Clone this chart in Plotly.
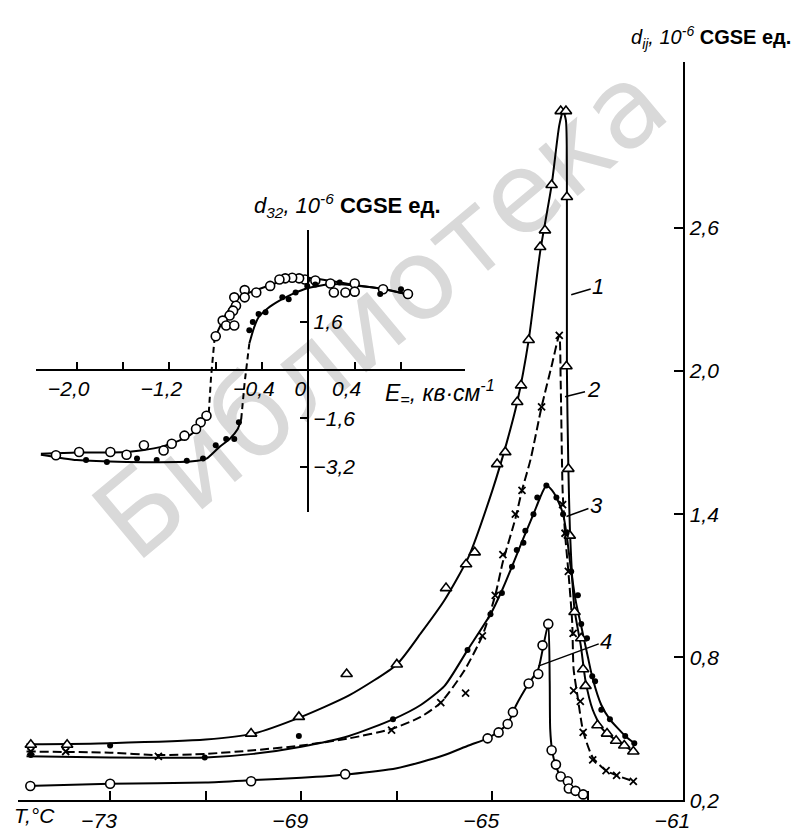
import plotly.graph_objects as go

# ---------------- main chart: T (°C) vs d_ij (10^-6 CGSE units) ----------------
# curve 1 (triangles, solid)
c1_line_T = [-74.75, -73.0, -71.0, -70.0, -69.0, -68.0, -67.0, -66.5, -66.0, -65.5, -65.0, -64.7,
             -64.48, -64.24, -64.0, -63.76, -63.6, -63.52, -63.46, -63.44, -63.44, -63.41, -63.37,
             -63.28, -63.15, -63.05, -62.9, -62.7, -62.4, -62.05]
c1_line_d = [0.435, 0.44, 0.455, 0.48, 0.55, 0.64, 0.77, 0.9, 1.04, 1.22, 1.5, 1.7,
             1.87, 2.13, 2.5, 2.78, 3.03, 3.09, 3.05, 2.7, 2.0, 1.6, 1.3,
             1.0, 0.85, 0.7, 0.58, 0.5, 0.45, 0.405]
c1_pts_T = [-74.66, -73.9, -70.05, -69.05, -68.05, -67.0, -65.97, -65.55, -65.37, -64.9, -64.73,
            -64.48, -64.4, -64.24, -64.0, -63.9, -63.76, -63.57, -63.46, -63.44, -63.45, -63.41,
            -63.38, -63.28, -63.14, -63.1, -63.05, -62.8, -62.6, -62.41, -62.24, -62.05]
c1_pts_d = [0.433, 0.433, 0.48, 0.55, 0.73, 0.77, 1.09, 1.19, 1.24, 1.61, 1.66,
            1.87, 1.94, 2.13, 2.52, 2.59, 2.78, 3.09, 3.09, 2.73, 2.02, 1.59,
            1.31, 0.99, 0.88, 0.75, 0.68, 0.515, 0.48, 0.45, 0.43, 0.405]

# curve 2 (crosses, dashed)
c2_line_T = [-74.75, -73.0, -72.0, -71.0, -70.0, -69.0, -68.0, -67.1, -66.5, -66.08, -65.6, -65.21,
             -64.94, -64.78, -64.52, -64.38, -64.2, -63.97, -63.75, -63.6, -63.57, -63.53, -63.48,
             -63.41, -63.33, -63.3, -63.22, -63.1, -62.9, -62.62, -62.4, -62.05]
c2_line_d = [0.405, 0.40, 0.39, 0.395, 0.41, 0.43, 0.46, 0.50, 0.55, 0.61, 0.74, 0.89,
             1.06, 1.2, 1.38, 1.50, 1.63, 1.85, 2.03, 2.15, 1.95, 1.5, 1.32,
             1.16, 0.95, 0.75, 0.64, 0.49, 0.38, 0.325, 0.305, 0.28]
c2_pts_T = [-74.66, -73.93, -71.99, -67.11, -66.08, -65.56, -65.21, -64.94, -64.78, -64.52, -64.38,
            -63.97, -63.6, -63.53, -63.48, -63.41, -63.31, -63.3, -63.16, -63.1, -62.9, -62.62,
            -62.4, -62.05]
c2_pts_d = [0.405, 0.405, 0.385, 0.495, 0.61, 0.65, 0.89, 1.06, 1.23, 1.40, 1.50,
            1.85, 2.15, 1.44, 1.32, 1.16, 0.90, 0.66, 0.615, 0.485, 0.37, 0.325,
            0.305, 0.28]

# curve 3 (filled dots, solid)
c3_line_T = [-74.75, -73.0, -71.0, -70.0, -69.0, -68.0, -67.08, -66.5, -66.0, -65.52, -65.04, -64.8,
             -64.59, -64.35, -64.14, -64.0, -63.87, -63.75, -63.66, -63.52, -63.45, -63.35, -63.25,
             -63.14, -63.0, -62.9, -62.72, -62.54, -62.22, -62.03]
c3_line_d = [0.385, 0.38, 0.38, 0.395, 0.425, 0.47, 0.54, 0.6, 0.68, 0.83, 0.98, 1.08,
             1.18, 1.3, 1.40, 1.47, 1.52, 1.5, 1.47, 1.40, 1.32, 1.16, 1.03,
             0.93, 0.8, 0.71, 0.6, 0.54, 0.47, 0.44]
c3_pts_T = [-74.66, -73.0, -71.02, -69.05, -67.08, -65.52, -65.04, -64.8, -64.59, -64.49, -64.35,
            -64.31, -64.14, -64.06, -63.87, -63.66, -63.52, -63.45, -63.35, -63.21, -63.14, -63.02,
            -62.91, -62.85, -62.72, -62.54, -62.22, -62.03]
c3_pts_d = [0.39, 0.43, 0.38, 0.47, 0.54, 0.83, 0.98, 1.07, 1.18, 1.25, 1.28,
            1.33, 1.40, 1.47, 1.52, 1.47, 1.40, 1.32, 1.16, 1.06, 0.94, 0.88,
            0.72, 0.70, 0.58, 0.54, 0.47, 0.44]

# curve 4 (open circles, solid)
c4_line_T = [-74.75, -73.0, -71.0, -70.0, -69.0, -68.0, -67.0, -66.5, -66.0, -65.5, -65.1, -64.87,
             -64.68, -64.5, -64.24, -64.04, -63.95, -63.83, -63.8, -63.79, -63.75, -63.68, -63.57,
             -63.42, -63.26, -63.1]
c4_line_d = [0.26, 0.27, 0.275, 0.285, 0.295, 0.31, 0.335, 0.36, 0.39, 0.43, 0.46, 0.49,
             0.52, 0.6, 0.69, 0.75, 0.83, 0.94, 0.7, 0.5, 0.41, 0.35, 0.3,
             0.27, 0.24, 0.225]
c4_pts_T = [-74.67, -73.0, -70.05, -68.08, -65.1, -64.87, -64.68, -64.57, -64.24, -64.04, -63.95,
            -63.83, -63.76, -63.67, -63.57, -63.42, -63.4, -63.26, -63.1]
c4_pts_d = [0.26, 0.27, 0.28, 0.31, 0.46, 0.485, 0.52, 0.57, 0.69, 0.73, 0.85,
            0.94, 0.41, 0.35, 0.30, 0.28, 0.25, 0.24, 0.225]

x_ticks = [-73, -69, -65, -61]
x_ticktext = ["−73", "−69", "−65", "−61"]
x_minor = [-71, -67, -63]
y_ticks = [0.2, 0.8, 1.4, 2.0, 2.6]
y_ticktext = ["0,2", "0,8", "1,4", "2,0", "2,6"]

# ---------------- inset: E (kV/cm) vs d_32 ----------------
io_low_E = [-2.31, -2.0, -1.57, -1.28, -1.08, -0.97, -0.90, -0.86]
io_low_d = [-2.77, -2.73, -2.71, -2.55, -2.28, -2.0, -1.68, -1.41]
io_jump_E = [-0.86, -0.84, -0.81]
io_jump_d = [-1.41, -0.2, 1.05]
io_up_E = [-0.81, -0.71, -0.60, -0.43, -0.20, -0.01, 0.20, 0.40, 0.66, 0.87]
io_up_d = [1.05, 1.86, 2.41, 2.68, 2.97, 3.06, 2.95, 2.82, 2.68, 2.49]
io_pts_E = [0.86, 0.645, 0.40, 0.40, 0.32, 0.22, 0.19, 0.06, -0.03, -0.08, -0.14, -0.20, -0.25,
            -0.33, -0.45, -0.55, -0.55, -0.64, -0.625, -0.65, -0.68, -0.74, -0.71, -0.64, -0.80,
            -0.88, -0.93, -0.97, -1.07, -1.18, -1.25, -1.42, -1.57, -1.71, -1.98, -2.18]
io_pts_d = [2.52, 2.68, 2.87, 2.60, 2.57, 2.57, 2.87, 2.97, 3.0, 3.04, 3.06, 3.04, 3.0,
            2.79, 2.57, 2.65, 2.41, 2.41, 2.13, 1.97, 1.81, 1.64, 1.48, 1.48, 1.12,
            -1.51, -1.73, -1.95, -2.17, -2.44, -2.66, -2.49, -2.80, -2.71, -2.71, -2.82]

if_low_E = [-2.31, -2.0, -1.57, -1.0, -0.88, -0.77, -0.68, -0.61, -0.58]
if_low_d = [-2.8, -2.98, -3.04, -3.02, -2.93, -2.55, -2.28, -1.95, -1.62]
if_jump_E = [-0.58, -0.55, -0.51]
if_jump_d = [-1.62, -0.4, 0.88]
if_up_E = [-0.51, -0.47, -0.43, -0.35, -0.25, -0.14, 0.0, 0.2, 0.4, 0.66, 0.87]
if_up_d = [0.88, 1.4, 1.75, 2.05, 2.30, 2.52, 2.72, 2.85, 2.8, 2.68, 2.5]
if_pts_E = [0.80, 0.62, 0.27, 0.06, -0.01, -0.11, -0.17, -0.225, -0.37, -0.43, -0.48, -0.51,
            -0.60, -0.64, -0.71, -0.80, -0.91, -1.05, -1.31, -1.48, -1.74, -1.92]
if_pts_d = [2.68, 2.52, 2.9, 2.84, 2.79, 2.57, 2.35, 2.41, 1.92, 1.86, 1.59, 1.32,
            -1.73, -2.28, -2.28, -2.49, -2.93, -3.0, -2.98, -2.93, -3.04, -2.98]

ix_ticks = [-2.0, -1.2, -0.4, 0.0, 0.4]
ix_ticktext = ["−2,0", "−1,2", "−0,4", "0", "0,4"]
ix_minor = [-1.6, -0.8, 0.8]
iy_ticks = [-3.2, -1.6, 1.6]
iy_ticktext = ["−3,2", "−1,6", "1,6"]

W, H = 808, 832
BLK = "black"
FONT = "Liberation Sans"

fig = go.Figure()

def line(x, y, dash="solid", width=2, xa="x", ya="y", smooth=True):
    fig.add_trace(go.Scatter(x=x, y=y, mode="lines", xaxis=xa, yaxis=ya, hoverinfo="skip",
                             line=dict(color=BLK, width=width, dash=dash,
                                       shape="spline" if smooth else "linear", smoothing=0.6),
                             showlegend=False))

def pts(x, y, symbol, size, xa="x", ya="y", lw=1.5, fill=BLK):
    fig.add_trace(go.Scatter(x=x, y=y, mode="markers", xaxis=xa, yaxis=ya,
                             marker=dict(symbol=symbol, size=size, color=fill,
                                         line=dict(color=BLK, width=lw)),
                             showlegend=False))

# main curves
line(c1_line_T, c1_line_d)
line(c2_line_T, c2_line_d, dash="9px,4px")
line(c3_line_T, c3_line_d)
line(c4_line_T, c4_line_d)
pts(c1_pts_T, c1_pts_d, "triangle-up", 10, lw=1.6, fill="white")
pts(c2_pts_T, c2_pts_d, "x-thin", 7, lw=1.8)
pts(c3_pts_T, c3_pts_d, "circle", 6, lw=0)
pts(c4_pts_T, c4_pts_d, "circle", 9, lw=1.6, fill="white")

# inset curves
line(io_low_E, io_low_d, xa="x2", ya="y2")
line(io_jump_E, io_jump_d, dash="6px,4px", xa="x2", ya="y2", smooth=False)
line(io_up_E, io_up_d, xa="x2", ya="y2")
line(if_low_E, if_low_d, xa="x2", ya="y2")
line(if_jump_E, if_jump_d, dash="6px,4px", xa="x2", ya="y2", smooth=False)
line(if_up_E, if_up_d, xa="x2", ya="y2")
pts(io_pts_E, io_pts_d, "circle", 9, xa="x2", ya="y2", lw=1.6, fill="white")
pts(if_pts_E, if_pts_d, "circle", 6, xa="x2", ya="y2", lw=0)

tickfont = dict(family=FONT, size=21, color=BLK, style="italic")
tk = dict(ticks="inside", tickwidth=1.5, tickcolor=BLK, showgrid=False, zeroline=False,
          showline=True, linecolor=BLK, linewidth=2, tickfont=tickfont, tickmode="array")

fig.update_layout(
    width=W, height=H, margin=dict(l=0, r=0, t=0, b=0),
    paper_bgcolor="white", plot_bgcolor="rgba(0,0,0,0)",
    showlegend=False,
    xaxis=dict(domain=[10 / W, 681.4 / W], range=[-74.93, -61], ticklen=9,
               tickvals=x_ticks, ticktext=x_ticktext, ticklabelshift=-11, anchor="y",
               minor=dict(tickmode="array", tickvals=x_minor, ticks="inside", ticklen=9,
                          tickwidth=1.5, tickcolor=BLK, showgrid=False), **tk),
    yaxis=dict(domain=[29 / H, 777 / H], range=[0.2, 3.2947], side="right", ticklen=9,
               tickvals=y_ticks, ticktext=y_ticktext, anchor="x", **tk),
    xaxis2=dict(domain=[28.5 / W, 460.7 / W], range=[-2.35, 1.35], anchor="free",
                position=(H - 367) / H, ticklen=7, tickvals=ix_ticks, ticktext=ix_ticktext,
                ticklabelshift=-8,
                minor=dict(tickmode="array", tickvals=ix_minor, ticks="inside", ticklen=7,
                           tickwidth=1.5, tickcolor=BLK, showgrid=False), **tk),
    yaxis2=dict(domain=[(H - 510.8) / H, (H - 224.7) / H], range=[-4.7, 4.65], anchor="free",
                position=303 / W, side="right", ticklen=7, tickvals=iy_ticks,
                ticktext=iy_ticktext, **tk),
)

def ptext(x, y, text, size=20, xanchor="left", yanchor="middle"):
    fig.add_annotation(xref="paper", yref="paper", x=x / W, y=1 - y / H, text=text,
                       showarrow=False, xanchor=xanchor, yanchor=yanchor,
                       font=dict(family=FONT, size=size, color=BLK))

ptext(626, 30, "<i>d<sub>ij</sub></i><i>, 10<sup>-6</sup></i> <b>CGSE ед.</b>", size=20)
ptext(246, 200, "<i>d<sub>32</sub></i><i>, 10<sup>-6</sup></i> <b>CGSE ед.</b>", size=22)
ptext(378, 389, "<i>E<sub>=</sub>, кв·см<sup>-1</sup></i>", size=23)
ptext(4, 818, "<i>T,°C</i>", size=21)

# curve labels with leader lines
for lab, tx, ty, ax, ay in [("1", -63.35, 2.32, 27, -8), ("2", -63.48, 1.892, 28, -7),
                            ("3", -63.45, 1.39, 30, -11), ("4", -64.04, 0.763, 68, -25)]:
    fig.add_annotation(x=tx, y=ty, xref="x", yref="y", text="<i>" + lab + "</i>",
                       showarrow=True, arrowhead=0, arrowwidth=1.5, arrowcolor=BLK,
                       ax=ax, ay=ay, font=dict(family=FONT, size=22, color=BLK))

# faint watermark of the scanned source
fig.add_shape(type="line", xref="paper", yref="paper", x0=60 / W, y0=1 - 560 / H, x1=680 / W,
              y1=1 - 40 / H, line=dict(color="rgba(0,0,0,0)", width=0), layer="below",
              label=dict(text="Библиотека", textposition="middle", yanchor="middle",
                         font=dict(family="DejaVu Sans", size=112, color="#d9d9d9")))

fig.write_html("out.html")
